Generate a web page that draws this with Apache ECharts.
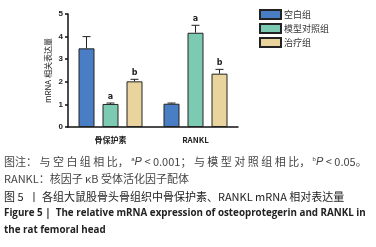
<!DOCTYPE html>
<html>
<head>
<meta charset="utf-8">
<script src="https://cdn.jsdelivr.net/npm/echarts@6/dist/echarts.min.js"></script>
<style>
  html, body { margin: 0; padding: 0; background: #fff; }
  #chart { width: 376px; height: 247px; }
</style>
</head>
<body>
<div id="chart"></div>
<script>
var categories = ['骨保护素', 'RANKL'];
var groupNames = ['空白组', '模型对照组', '治疗组'];
var blankVals = [3.48, 1.03];
var modelVals = [1.02, 4.17];
var treatVals = [2.02, 2.36];
var blankErr = [0.52, 0.03];
var modelErr = [0.04, 0.33];
var treatErr = [0.09, 0.19];
var modelMarks = ['a', 'a'];
var treatMarks = ['b', 'b'];
var yTicks = [0, 1, 2, 3, 4, 5];

var colors = ['#4a7ec4', '#7dcab3', '#e8d49c'];
var cjk = '"Noto Sans CJK SC", sans-serif';

var chart = echarts.init(document.getElementById('chart'), null, { renderer: 'canvas' });

// 误差线（只画向上）+ 显著性标记
function errorSeries(vals, errs, marks, offset) {
    return {
        type: 'custom',
        silent: true,
        z: 5,
        data: vals.map(function (v, i) { return [i, v, v + errs[i], marks ? marks[i] : '']; }),
        renderItem: function (params, api) {
            var base = api.coord([api.value(0), api.value(1)]);
            var top = api.coord([api.value(0), api.value(2)]);
            var x = base[0] + offset;
            var kids = [
                { type: 'line', shape: { x1: x, y1: base[1], x2: x, y2: top[1] }, style: { stroke: '#222', lineWidth: 1 } },
                { type: 'line', shape: { x1: x - 4, y1: top[1], x2: x + 4, y2: top[1] }, style: { stroke: '#222', lineWidth: 1 } }
            ];
            var m = api.value(3);
            if (m) {
                kids.push({ type: 'text', style: { text: m, x: x, y: top[1] - 2, align: 'center', verticalAlign: 'bottom',
                    font: 'bold 8px "DejaVu Sans", sans-serif', fill: '#222' } });
            }
            return { type: 'group', children: kids };
        }
    };
}

function barSeries(name, vals, color) {
    return {
        name: name,
        type: 'bar',
        barWidth: 16,
        barGap: '50%',
        data: vals,
        itemStyle: { color: color, borderColor: '#222', borderWidth: 1 }
    };
}

chart.setOption({
    animation: false,
    grid: { left: 68, right: 138, top: 14, bottom: 120 },
    legend: {
        orient: 'vertical',
        left: 254,
        top: 4,
        itemWidth: 21,
        itemHeight: 9,
        itemGap: 3,
        icon: 'rect',
        data: groupNames,
        textStyle: { fontFamily: cjk, fontSize: 9, color: '#333', padding: [0, 0, 0, -2] }
    },
    xAxis: {
        type: 'category',
        data: categories,
        axisLine: { lineStyle: { color: '#111', width: 1.5 } },
        axisTick: { alignWithLabel: true, length: 4, lineStyle: { color: '#111', width: 1.5 } },
        axisLabel: { margin: 9, fontSize: 8, fontWeight: 'bold', color: '#222', fontFamily: cjk }
    },
    yAxis: {
        type: 'value',
        min: yTicks[0],
        max: yTicks[yTicks.length - 1],
        interval: 1,
        name: 'mRNA 相关表达量',
        nameLocation: 'middle',
        nameGap: 16,
        nameTextStyle: { fontSize: 8, color: '#222', fontFamily: cjk },
        axisLine: { show: true, lineStyle: { color: '#111', width: 1.5 } },
        axisTick: { show: true, length: 3, lineStyle: { color: '#111', width: 1.5 } },
        axisLabel: { margin: 5, fontSize: 8, fontWeight: 'bold', color: '#222' },
        splitLine: { show: false }
    },
    series: [
        barSeries(groupNames[0], blankVals, colors[0]),
        barSeries(groupNames[1], modelVals, colors[1]),
        barSeries(groupNames[2], treatVals, colors[2]),
        errorSeries(blankVals, blankErr, null, -24),
        errorSeries(modelVals, modelErr, modelMarks, 0),
        errorSeries(treatVals, treatErr, treatMarks, 24)
    ],
    graphic: [
        { type: 'text', left: 4, top: 156, style: {
            text: '图注： 与 空 白 组 相 比， {sup|a}{it|P} < 0.001； 与 模 型 对 照 组 相 比， {sup|b}{it|P} < 0.05。',
            font: '11px ' + cjk, fill: '#444',
            rich: {
                sup: { fontSize: 6, verticalAlign: 'top', fill: '#444', padding: [0, 0, 5, 0] },
                it: { fontStyle: 'italic', fontSize: 11, fill: '#444' }
            } } },
        { type: 'text', left: 4, top: 173, style: { text: 'RANKL：核因子 κB 受体活化因子配体', font: '11px ' + cjk, fill: '#444' } },
        { type: 'text', left: 4, top: 191, style: { text: '图 5  丨 各组大鼠股骨头骨组织中骨保护素、RANKL mRNA 相对表达量', font: '11px ' + cjk, fill: '#222' } },
        { type: 'text', left: 4, top: 208, style: { text: 'Figure 5 |  The relative mRNA expression of osteoprotegerin and RANKL in', font: 'bold 9.8px "Open Sans", sans-serif', fill: '#222' } },
        { type: 'text', left: 4, top: 225, style: { text: 'the rat femoral head', font: 'bold 9.8px "Open Sans", sans-serif', fill: '#222' } }
    ]
});
</script>
</body>
</html>
